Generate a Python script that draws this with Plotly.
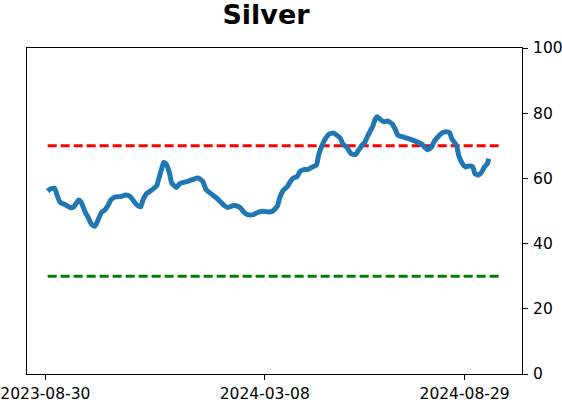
import plotly.graph_objects as go

dates = [
    "2023-09-01", "2023-09-03", "2023-09-07", "2023-09-09", "2023-09-12", "2023-09-16",
    "2023-09-21", "2023-09-24", "2023-09-28", "2023-09-30", "2023-10-04", "2023-10-06",
    "2023-10-09", "2023-10-12", "2023-10-14", "2023-10-18", "2023-10-21", "2023-10-24",
    "2023-10-26", "2023-10-30", "2023-11-03", "2023-11-08", "2023-11-12", "2023-11-15",
    "2023-11-18", "2023-11-21", "2023-11-23", "2023-11-26", "2023-11-30", "2023-12-05",
    "2023-12-06", "2023-12-09", "2023-12-11", "2023-12-13", "2023-12-16", "2023-12-18",
    "2023-12-22", "2023-12-25", "2023-12-31", "2024-01-05", "2024-01-10", "2024-01-14",
    "2024-01-17", "2024-01-21", "2024-01-25", "2024-01-29", "2024-02-02", "2024-02-05",
    "2024-02-09", "2024-02-12", "2024-02-16", "2024-02-19", "2024-02-22", "2024-02-27",
    "2024-03-02", "2024-03-07", "2024-03-11", "2024-03-15", "2024-03-19", "2024-03-21",
    "2024-03-24", "2024-03-28", "2024-03-30", "2024-04-02", "2024-04-05", "2024-04-08",
    "2024-04-11", "2024-04-15", "2024-04-18", "2024-04-22", "2024-04-24", "2024-04-27",
    "2024-04-30", "2024-05-03", "2024-05-07", "2024-05-10", "2024-05-13", "2024-05-15",
    "2024-05-19", "2024-05-22", "2024-05-26", "2024-05-28", "2024-06-01", "2024-06-03",
    "2024-06-06", "2024-06-10", "2024-06-12", "2024-06-14", "2024-06-17", "2024-06-20",
    "2024-06-23", "2024-06-27", "2024-06-30", "2024-07-02", "2024-07-06", "2024-07-09",
    "2024-07-13", "2024-07-16", "2024-07-20", "2024-07-23", "2024-07-26", "2024-07-28",
    "2024-07-31", "2024-08-03", "2024-08-06", "2024-08-09", "2024-08-13", "2024-08-16",
    "2024-08-18", "2024-08-22", "2024-08-24", "2024-08-27", "2024-08-30", "2024-09-02",
    "2024-09-05", "2024-09-07", "2024-09-10", "2024-09-13", "2024-09-15", "2024-09-18",
    "2024-09-19",
]
values = [
    56.1, 56.7, 57.0, 55.0, 52.6, 52.0,
    51.0, 51.4, 53.4, 52.8, 49.4, 48.2,
    46.0, 45.3, 46.6, 49.6, 50.4, 52.0,
    53.4, 54.3, 54.4, 54.9, 54.4, 53.0,
    51.8, 51.3, 53.4, 55.3, 56.3, 57.8,
    59.0, 62.6, 64.9, 64.5, 61.7, 58.6,
    57.2, 58.4, 59.0, 59.6, 60.1, 59.1,
    56.5, 55.4, 54.3, 53.0, 51.6, 51.1,
    51.6, 51.6, 50.9, 49.6, 48.9, 48.9,
    49.6, 49.9, 49.7, 50.0, 51.5, 54.0,
    56.3, 57.6, 58.9, 60.1, 60.5, 62.2,
    62.7, 62.8, 63.4, 64.1, 67.3, 70.2,
    72.3, 73.6, 73.9, 73.2, 72.2, 70.6,
    69.3, 67.6, 67.3, 68.3, 70.3, 71.0,
    73.3, 75.9, 78.0, 78.9, 78.0, 77.4,
    77.6, 76.7, 74.8, 73.2, 72.8, 72.4,
    72.0, 71.6, 71.0, 70.4, 69.3, 68.8,
    69.5, 71.6, 72.8, 73.9, 74.3, 74.0,
    72.1, 70.1, 66.9, 64.6, 63.5, 63.8,
    63.6, 61.5, 61.0, 62.0, 63.4, 64.6,
    66.0,
]

upper_level = 70
lower_level = 30
band_dates = ["2023-09-01", "2024-09-29"]
x_ticks = ["2023-08-30", "2024-03-08", "2024-08-29"]
y_ticks = [0, 20, 40, 60, 80, 100]
x_range = ["2023-08-14", "2024-10-18"]

fig = go.Figure()
fig.add_trace(go.Scatter(x=band_dates, y=[upper_level, upper_level], mode="lines",
                         line=dict(color="#ff0000", width=3, dash="9px,4px"),
                         showlegend=False, hoverinfo="skip"))
fig.add_trace(go.Scatter(x=band_dates, y=[lower_level, lower_level], mode="lines",
                         line=dict(color="#008000", width=3, dash="9px,4px"),
                         showlegend=False, hoverinfo="skip"))
fig.add_trace(go.Scatter(x=dates, y=values, mode="lines",
                         line=dict(color="#1f77b4", width=5, shape="spline", smoothing=0.5),
                         showlegend=False))

fig.update_layout(
    width=562, height=402,
    margin=dict(l=27, r=40, t=48, b=28),
    paper_bgcolor="white", plot_bgcolor="white",
    font=dict(family="DejaVu Sans", size=15.5, color="black"),
    title=dict(text="<b>Silver</b>", x=266 / 562, xref="container",
               xanchor="center", y=1 - 15 / 402, yanchor="middle",
               font=dict(family="DejaVu Sans", size=27, color="black")),
    xaxis=dict(type="date", range=x_range, tickvals=x_ticks, ticktext=x_ticks,
               showgrid=False, zeroline=False, showline=True, linecolor="black",
               linewidth=1, mirror=True, ticks="outside", ticklen=5, tickcolor="black",
               tickfont=dict(size=15.5), automargin=False),
    yaxis=dict(range=[0, 100], tickvals=y_ticks, side="right", showgrid=False,
               zeroline=False, showline=True, linecolor="black", linewidth=1,
               mirror=True, ticks="outside", ticklen=5, tickcolor="black",
               tickfont=dict(size=15.5), automargin=False, ticklabelstandoff=2),
)

fig.write_html("out.html")
